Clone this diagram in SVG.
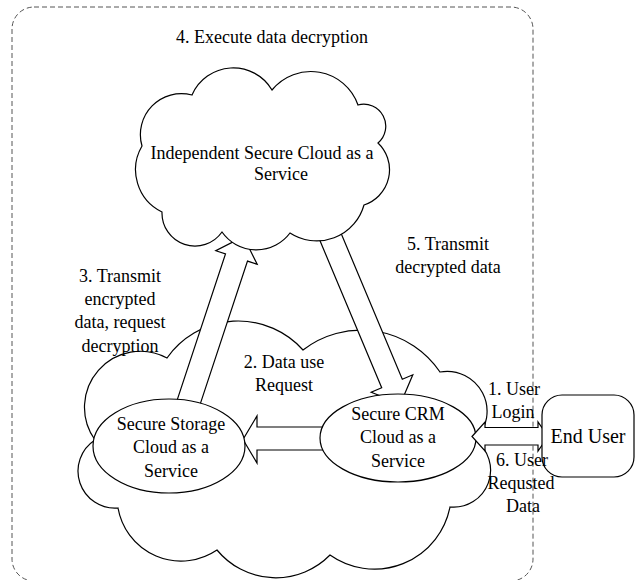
<svg xmlns="http://www.w3.org/2000/svg" width="637" height="580" viewBox="0 0 637 580">
<style>
.ln{fill:#fff;stroke:#000;stroke-width:1.2;stroke-linejoin:miter}
.t{font-family:"Liberation Serif","Times New Roman","DejaVu Serif",serif;font-size:18px;fill:#000;text-anchor:middle}
.border{fill:none;stroke:#555;stroke-width:1;stroke-dasharray:5,3}
</style>
<rect width="637" height="580" fill="#fff"/>
<g id="boundary"><rect class="border" x="12" y="7" width="521" height="574" rx="22" ry="22"/></g>
<g id="secure-cloud">
<path class="ln" d="M95,440 A56,56 0 0 1 167,358 A87,87 0 0 1 303,350 A95,95 0 0 1 440,372 A40,40 0 0 1 475,440 A37,37 0 0 1 450,507 A77,77 0 0 1 330,555 A76,76 0 0 1 217,550 A64,64 0 0 1 118,508 A37,37 0 0 1 95,440 Z"/>
</g>
<g id="connectors">
<polygon id="arrow3" class="ln" points="174.9,406.9 225.5,253.9 215.8,250.7 243.4,236.6 257.2,264.3 247.5,261.1 196.9,414.1"/>
<polygon id="arrow5" class="ln" points="315.2,229.3 381.7,387.8 371.2,392.2 400.5,403.8 412.8,374.8 402.3,379.2 335.8,220.7"/>
<polygon id="arrow2" class="ln" points="330,427 257,427 257,416 243,439.5 257,463 257,450 330,450"/>
</g>
<g id="independent-cloud">
<path class="ln" d="M142,146 A41,41 0 0 1 192,95 A45,45 0 0 1 272,90 A50,50 0 0 1 358,105 A22,22 0 0 1 378,143 A37,37 0 0 1 364,205 A49,49 0 0 1 290,233 A42,42 0 0 1 222,232 A33,33 0 0 1 162,212 A47,47 0 0 1 142,146 Z"/>
<text class="t" x="262" y="159">Independent Secure Cloud as a</text>
<text class="t" x="281" y="180">Service</text>
</g>
<g id="storage">
<ellipse class="ln" cx="169" cy="446" rx="76" ry="47"/>
<text class="t" x="171" y="430">Secure Storage</text>
<text class="t" x="171" y="453">Cloud as a</text>
<text class="t" x="171" y="477">Service</text>
</g>
<g id="crm">
<ellipse class="ln" cx="398" cy="438" rx="78" ry="44"/>
<text class="t" x="398" y="420">Secure CRM</text>
<text class="t" x="398" y="443">Cloud as a</text>
<text class="t" x="398" y="467">Service</text>
</g>
<g id="connector-user">
<polygon id="arrow16" class="ln" points="472,436.5 485,422 485,427.5 538,427.5 538,422 548,436.5 538,451 538,445 485,445 485,451"/>
</g>
<g id="end-user">
<rect class="ln" x="542" y="395" width="92" height="82" rx="20" ry="20"/>
<text class="t" x="588" y="443" style="font-size:20px">End User</text>
</g>
<g id="labels">
<text class="t" x="272" y="43">4. Execute data decryption</text>
<text class="t" x="120" y="282">3. Transmit</text>
<text class="t" x="120" y="305">encrypted</text>
<text class="t" x="120" y="328">data, request</text>
<text class="t" x="120" y="352">decryption</text>
<text class="t" x="284" y="368">2. Data use</text>
<text class="t" x="284" y="391">Request</text>
<text class="t" x="448" y="250">5. Transmit</text>
<text class="t" x="448" y="273">decrypted data</text>
<text class="t" x="514" y="395">1. User</text>
<text class="t" x="513" y="418">Login</text>
<text class="t" x="522" y="466">6. User</text>
<text class="t" x="521" y="489">Requsted</text>
<text class="t" x="523" y="512">Data</text>
</g>
</svg>
